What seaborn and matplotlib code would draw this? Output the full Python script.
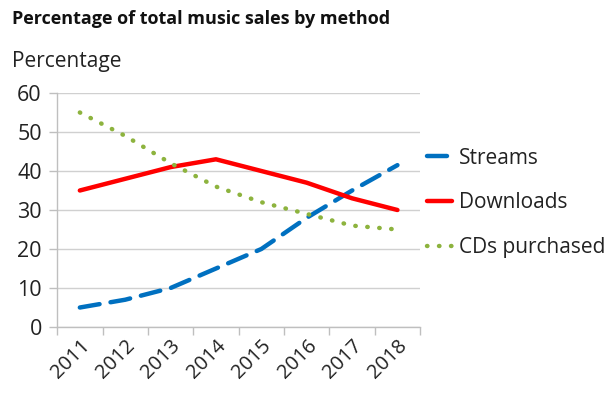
import matplotlib
matplotlib.use("Agg")
import matplotlib.pyplot as plt
import seaborn as sns
import pandas as pd
from matplotlib.ticker import FixedLocator

years = ["2011", "2012", "2013", "2014", "2015", "2016", "2017", "2018"]
streams = [5, 7, 10, 15, 20, 28, 35, 41.5]
downloads = [35, 38, 41, 43, 40, 37, 33, 30]
cds = [55, 49, 42, 36, 32, 29, 26, 25]
series_names = ["Streams", "Downloads", "CDs purchased"]
y_ticks = [0, 10, 20, 30, 40, 50, 60]

sns.set_theme(style="white")
plt.rcParams["font.family"] = ["Open Sans", "DejaVu Sans"]

df = pd.DataFrame({
    "idx": list(range(len(years))) * 3,
    "value": streams + downloads + cds,
    "series": [series_names[0]] * 8 + [series_names[1]] * 8 + [series_names[2]] * 8,
})

fig = plt.figure(figsize=(6.08, 3.94), dpi=100)
ax = fig.add_axes([0.094, 0.170, 0.597, 0.594])

colors = {"Streams": "#0070C0", "Downloads": "#FF0000", "CDs purchased": "#8DB33E"}
styles = {
    "Streams": dict(dashes=(4.5, 2.5), solid_capstyle="round", dash_capstyle="round"),
    "Downloads": dict(solid_capstyle="round"),
    "CDs purchased": dict(dashes=(0.1, 2.6), dash_capstyle="round"),
}

for name in series_names:
    sub = df[df["series"] == name]
    kw = styles[name]
    line_kw = {k: v for k, v in kw.items() if k != "dashes"}
    sns.lineplot(data=sub, x="idx", y="value", ax=ax, color=colors[name],
                 linewidth=3.2, label=name, legend=False, **line_kw)
    if "dashes" in kw:
        ax.lines[-1].set_dashes(kw["dashes"])

ax.set_xlim(-0.5, len(years) - 0.5)
ax.set_ylim(0, 60)
ax.set_yticks(y_ticks)
ax.set_xticks(range(len(years)))
ax.set_xticklabels(years, rotation=45, ha="right", rotation_mode="anchor")
ax.xaxis.set_minor_locator(FixedLocator([i - 0.5 for i in range(len(years) + 1)]))
ax.tick_params(axis="x", which="major", length=0, pad=6, labelsize=14.5, colors="#222222")
ax.tick_params(axis="x", which="minor", length=6, width=1, color="#BFBFBF", bottom=True)
ax.tick_params(axis="y", length=6, width=1, color="#BFBFBF", labelsize=15.5,
               pad=5, left=True)
for lbl in ax.get_yticklabels():
    lbl.set_color("#222222")

ax.grid(axis="y", color="#D0D0D0", linewidth=1)
ax.grid(axis="x", visible=False)
for side in ["top", "right"]:
    ax.spines[side].set_visible(False)
for side in ["left", "bottom"]:
    ax.spines[side].set_color("#BFBFBF")
    ax.spines[side].set_linewidth(1)
ax.set_xlabel("")
ax.set_ylabel("")

handles, labels = ax.get_legend_handles_labels()
leg = ax.legend(handles, labels, loc="center left", bbox_to_anchor=(1.019, 0.53),
                frameon=False, fontsize=15, labelspacing=1.15, handlelength=1.2,
                handletextpad=0.35, borderaxespad=0, borderpad=0)
for t in leg.get_texts():
    t.set_color("#222222")

fig.text(0.02, 0.952, "Percentage of total music sales by method", fontsize=13,
         fontweight="bold", ha="left", va="center", color="#111111")
fig.text(0.02, 0.845, "Percentage", fontsize=15, ha="left", va="center", color="#222222")

fig.savefig("out.png", dpi=100)
